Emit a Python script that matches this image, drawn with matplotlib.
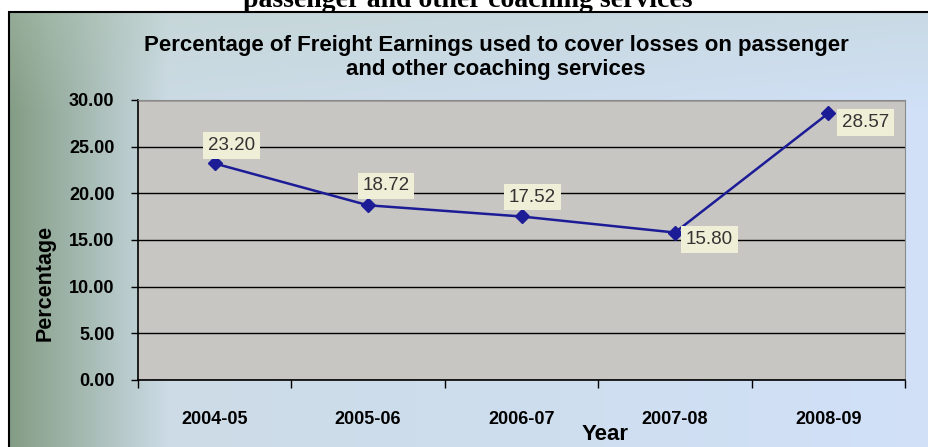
import numpy as np
import matplotlib.pyplot as plt
from matplotlib.patches import Rectangle

years = ['2004-05', '2005-06', '2006-07', '2007-08', '2008-09']
share = [23.20, 18.72, 17.52, 15.80, 28.57]
yticks = [0, 5, 10, 15, 20, 25, 30]

# label offsets in points (dx, dy) so boxes sit like in the original
offsets = [(12, 13), (13, 14), (8, 14), (25, -5), (27, -6.5)]

fig = plt.figure(figsize=(9.29, 4.47), dpi=100)

# background gradient: greenish on the left, pale blue to the right
bg = fig.add_axes([0, 0, 1, 1], zorder=0)
gx = np.linspace(0, 1, 300)
gy = np.linspace(0, 1, 150)
X, Y = np.meshgrid(gx, gy)
left_c = np.array([0.50, 0.60, 0.50])
mid_c = np.array([0.80, 0.86, 0.90])
right_c = np.array([0.82, 0.88, 0.97])
t = np.clip(X / 0.18, 0, 1)[..., None]
img = left_c * (1 - t) + mid_c * t
t2 = np.clip((X - 0.18) / 0.8, 0, 1)[..., None]
img = img * (1 - t2) + right_c * t2
# top band slightly greener
tb = np.clip((Y - 0.75) / 0.25, 0, 1)[..., None] * 0.35
img = img * (1 - tb) + np.array([0.72, 0.80, 0.74]) * tb
img = np.clip(img, 0, 1)
bg.imshow(img, extent=[0, 1, 0, 1], aspect='auto', origin='lower')
bg.set_xlim(0, 1)
bg.set_ylim(0, 1)
bg.axis('off')

# white strip at the very top and the frame of the chart object
fig.patches.append(Rectangle((0, 1 - 12 / 447), 1, 12 / 447, transform=fig.transFigure,
                             facecolor='white', edgecolor='none', zorder=1))
fig.patches.append(Rectangle((0, 0), 8 / 929, 1, transform=fig.transFigure,
                             facecolor='white', edgecolor='none', zorder=1))
fig.patches.append(Rectangle((9 / 929, -0.05), 1.0, 1 - 12 / 447 + 0.05, transform=fig.transFigure,
                             facecolor='none', edgecolor='black', linewidth=1.5, zorder=2))

# tail of the page heading above the chart, clipped by the page edge
fig.text(0.503, 1 - 7 / 447, 'passenger and other coaching services', ha='center', va='baseline',
         fontsize=20, fontweight='bold', family='Liberation Serif', zorder=3)

fig.text(0.534, 1 - 45 / 447, 'Percentage of Freight Earnings used to cover losses on passenger',
         ha='center', va='center', fontsize=16, fontweight='bold', family='Liberation Sans')
fig.text(0.534, 1 - 70 / 447, 'and other coaching services',
         ha='center', va='center', fontsize=16, fontweight='bold', family='Liberation Sans')

ax = fig.add_axes([138 / 929, 1 - 380 / 447, 767 / 929, 280 / 447], zorder=2)
ax.set_facecolor('#c8c6c3')
x = np.arange(len(years))
ax.plot(x, share, color='#1c1c96', linewidth=1.8, marker='D', markersize=7, zorder=3)

for xi, v, (dx, dy) in zip(x, share, offsets):
    ax.annotate(f'{v:.2f}', (xi, v), xytext=(dx, dy), textcoords='offset points',
                ha='center', va='center', fontsize=13.5, color='#333333', family='Liberation Sans',
                bbox=dict(boxstyle='square,pad=0.25', facecolor='#efeed6', edgecolor='none'),
                zorder=4)

ax.set_xlim(-0.5, len(years) - 0.5)
ax.set_ylim(0, 30)
ax.set_yticks(yticks)
ax.set_yticklabels([f'{v:.2f}' for v in yticks], fontsize=13, fontweight='bold',
                   family='Liberation Sans')
ax.set_xticks(x)
ax.set_xticklabels(years, fontsize=13, fontweight='bold', family='Liberation Sans')
ax.set_xticks(np.arange(-0.5, len(years), 1), minor=True)
ax.tick_params(axis='x', which='major', length=0, pad=22)
ax.tick_params(axis='x', which='minor', length=6, direction='out', width=1)
ax.tick_params(axis='y', length=5, direction='out', width=1, pad=12)
ax.grid(axis='y', color='black', linewidth=1)
ax.set_axisbelow(True)
for s in ['top', 'right']:
    ax.spines[s].set_color('#8a8a8a')
for s in ['left', 'bottom']:
    ax.spines[s].set_color('black')
    ax.spines[s].set_linewidth(1.2)

ax.set_ylabel('Percentage', fontsize=15.5, fontweight='bold', family='Liberation Sans')
ax.yaxis.set_label_coords(-0.121, 0.346)
ax.set_xlabel('Year', fontsize=16, fontweight='bold', family='Liberation Sans')
ax.xaxis.set_label_coords((605 - 138) / 767, -(434 - 380) / 280)
ax.xaxis.label.set_va('center')
ax.yaxis.label.set_va('center')

fig.savefig('out.png', dpi=100)
